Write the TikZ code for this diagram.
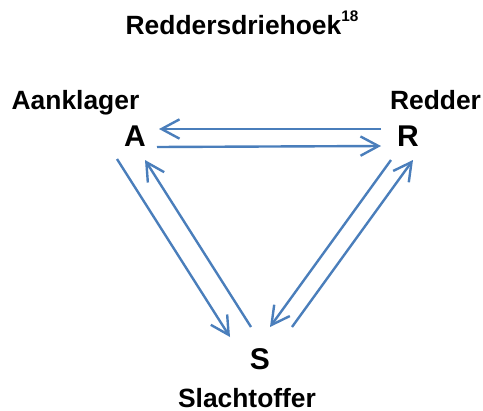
\documentclass[tikz,border=0pt]{standalone}
\usepackage{fontspec}
\setmainfont{Liberation Sans}
\usetikzlibrary{arrows.meta}
\definecolor{pijlblauw}{RGB}{74,126,187}
\tikzset{
  rol/.style={font=\bfseries\fontsize{19.8}{23}\selectfont,inner sep=0pt,anchor=base},
  letter/.style={font=\bfseries\fontsize{22.5}{26}\selectfont,inner sep=0pt,anchor=base},
  pijl/.style={draw=pijlblauw,line width=1.8pt,-{Straight Barb[length=13.5pt,width=14.5pt,line width=1.8pt]}}
}
\begin{document}
\begin{tikzpicture}[x=0.75pt,y=-0.75pt]
  \useasboundingbox (0,0) rectangle (483,411);
  % titel
  \node[rol] (titel) at (242,34)
    {Reddersdriehoek\raisebox{9.3pt}{\fontsize{11.5}{12}\selectfont 18}};
  % rollen
  \node[letter] (A) at (135,146) {A};
  \node[letter] (R) at (408,146) {R};
  \node[letter] (S) at (260,369) {S};
  \node[rol] (aanklager) at (75.5,109) {Aanklager};
  \node[rol] (redder) at (435.5,109) {Redder};
  \node[rol] (slachtoffer) at (247,407) {Slachtoffer};
  % pijlen
  \draw[pijl] ([shift={(-27,-17)}]R.base) -- ([shift={(24,-17)}]A.base);
  \draw[pijl] ([shift={(22,1)}]A.base) -- ([shift={(-27,0)}]R.base);
  \draw[pijl] ([shift={(-18,13)}]A.base) -- ([shift={(-30,-32)}]S.base);
  \draw[pijl] ([shift={(-9,-42)}]S.base) -- ([shift={(10,14)}]A.base);
  \draw[pijl] ([shift={(-17,14)}]R.base) -- ([shift={(10,-42)}]S.base);
  \draw[pijl] ([shift={(32,-42)}]S.base) -- ([shift={(5,14)}]R.base);
\end{tikzpicture}
\end{document}
